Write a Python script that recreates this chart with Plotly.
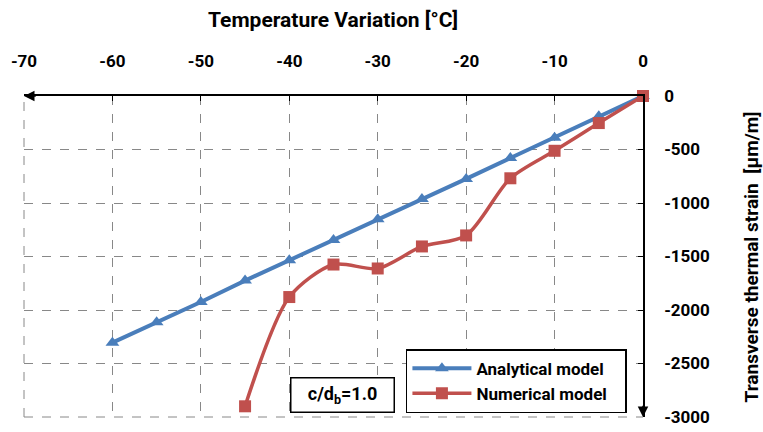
import plotly.graph_objects as go

x_analytical = [0, -5, -10, -15, -20, -25, -30, -35, -40, -45, -50, -55, -60]
y_analytical = [0, -190, -390, -580, -775, -963, -1152, -1345, -1535, -1725, -1925, -2115, -2305]

x_numerical = [0, -5, -10, -15, -20, -25, -30, -35, -40, -45]
y_numerical = [0, -253, -512, -769, -1303, -1406, -1612, -1575, -1879, -2900]

x_ticks = [-70, -60, -50, -40, -30, -20, -10, 0]
y_ticks = [0, -500, -1000, -1500, -2000, -2500, -3000]

FONT = "Roboto, Lato, sans-serif"
PAD = "\u00a0\u00a0\u00a0"

fig = go.Figure()
fig.add_trace(go.Scatter(
    x=x_analytical, y=y_analytical, name="Analytical model" + PAD,
    mode="lines+markers",
    line=dict(color="#4A7EBB", width=4),
    marker=dict(symbol="triangle-up", size=12, color="#4A7EBB"),
    cliponaxis=False,
))
fig.add_trace(go.Scatter(
    x=x_numerical, y=y_numerical, name="Numerical model" + PAD,
    mode="lines+markers",
    line=dict(color="#C0504D", width=3.5, shape="spline", smoothing=0.8),
    marker=dict(symbol="square", size=12, color="#C0504D"),
    cliponaxis=False,
))

fig.update_layout(
    width=763, height=432,
    margin=dict(l=24, r=120, t=96, b=15),
    paper_bgcolor="white", plot_bgcolor="white",
    font=dict(family=FONT, size=17, color="black"),
    showlegend=True,
    legend=dict(
        x=0.617, y=0.012, xanchor="left", yanchor="bottom",
        bordercolor="black", borderwidth=1.5, bgcolor="white",
        font=dict(family=FONT, size=17, color="black", weight="bold"),
        tracegroupgap=0, itemwidth=59,
    ),
    xaxis=dict(
        side="top", range=[-70, 0], tickvals=x_ticks,
        ticktext=[str(v) for v in x_ticks],
        automargin=False,
        showgrid=True, gridcolor="#888888", griddash="dash", gridwidth=1,
        zeroline=False, showline=True, linecolor="black", linewidth=1.5,
        ticks="inside", ticklen=5, tickcolor="black",
        ticklabelstandoff=20,
        tickfont=dict(family=FONT, size=17, color="black", weight="bold"),
    ),
    yaxis=dict(
        side="right", range=[-3000, 0], tickvals=y_ticks,
        ticktext=[str(v) for v in y_ticks],
        automargin=False,
        showgrid=True, gridcolor="#888888", griddash="dash", gridwidth=1,
        zeroline=False, showline=True, linecolor="black", linewidth=1.5,
        ticks="inside", ticklen=5, tickcolor="black",
        ticklabelstandoff=16,
        tickfont=dict(family=FONT, size=17, color="black", weight="bold"),
    ),
)

# dashed grid lines on the plot-area edges (left and bottom)
fig.add_shape(type="line", xref="x domain", yref="y domain", x0=0, x1=0, y0=0, y1=1,
              line=dict(color="#888888", width=1, dash="dash"), layer="below")
fig.add_shape(type="line", xref="x domain", yref="y domain", x0=0, x1=1, y0=0, y1=0,
              line=dict(color="#888888", width=1, dash="dash"), layer="below")

# axis arrows
fig.add_annotation(x=-70, y=0, ax=-68.5, ay=0, xref="x", yref="y", axref="x", ayref="y",
                   showarrow=True, arrowhead=2, arrowsize=1.4, arrowwidth=1.5,
                   arrowcolor="black", text="")
fig.add_annotation(x=0, y=-3000, ax=0, ay=-2880, xref="x", yref="y", axref="x", ayref="y",
                   showarrow=True, arrowhead=2, arrowsize=1.4, arrowwidth=1.5,
                   arrowcolor="black", text="")

# axis titles
fig.add_annotation(x=0.499, y=1.237, xref="paper", yref="paper", showarrow=False,
                   xanchor="center", yanchor="middle",
                   text="<b>Temperature Variation [°C]</b>",
                   font=dict(family=FONT, size=21, color="black"))
fig.add_annotation(x=1.176, y=0.5, xref="paper", yref="paper", showarrow=False,
                   xanchor="center", yanchor="middle",
                   textangle=-90,
                   text="<b>Transverse thermal strain  [μm/m]</b>",
                   font=dict(family=FONT, size=19, color="black"))

# label box
fig.add_annotation(x=-34.0, y=-2799, xref="x", yref="y", showarrow=False,
                   xanchor="center", yanchor="middle",
                   text="<b>c/d<sub>b</sub>=1.0</b>",
                   font=dict(family=FONT, size=18, color="black"),
                   bordercolor="black", borderwidth=1.5, bgcolor="white",
                   width=100, height=31, borderpad=1)

fig.write_html("out.html", config={"displayModeBar": False},
               post_script="document.body.style.margin='0';document.body.style.overflow='hidden';")
